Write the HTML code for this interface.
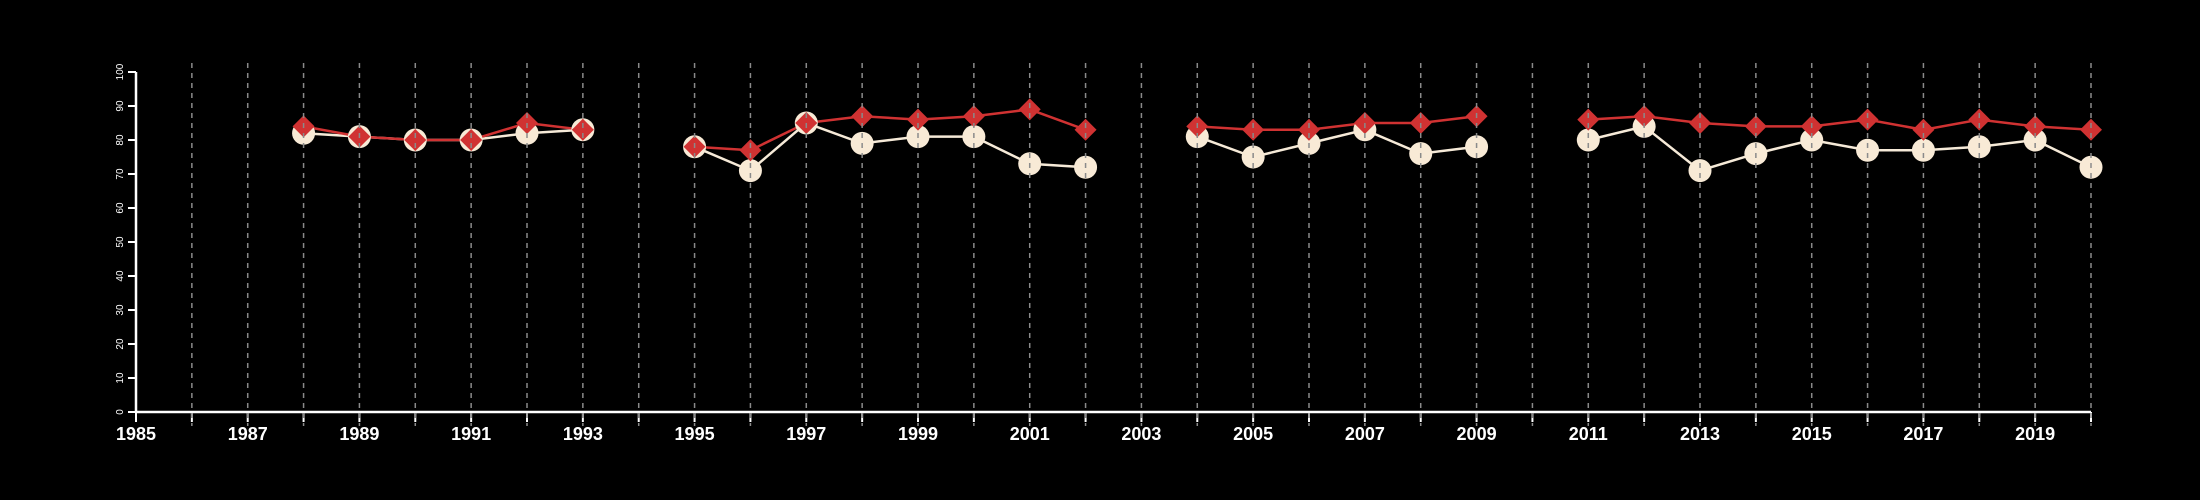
<!DOCTYPE html>
<html><head><meta charset="utf-8"><style>
html,body{margin:0;padding:0;background:#000;}
svg{display:block;}
</style></head><body>
<svg id="chart" width="2200" height="500" xmlns="http://www.w3.org/2000/svg">
<rect width="2200" height="500" fill="#000"/>
<g id="grid"></g>
<g id="axes"></g>
<g id="series"></g>
</svg>
<script>
const years = [1988,1989,1990,1991,1992,1993,null,1995,1996,1997,1998,1999,2000,2001,2002,null,2004,2005,2006,2007,2008,2009,null,2011,2012,2013,2014,2015,2016,2017,2018,2019,2020];
const whiteValues = [82,81,80,80,82,83,null,78,71,85,79,81,81,73,72,null,81,75,79,83,76,78,null,80,84,71,76,80,77,77,78,80,72];
const redValues = [84,81,80,80,85,83,null,78,77,85,87,86,87,89,83,null,84,83,83,85,85,87,null,86,87,85,84,84,86,83,86,84,83];
const yTicks = [0,10,20,30,40,50,60,70,80,90,100];
const xLabels = [1985,1987,1989,1991,1993,1995,1997,1999,2001,2003,2005,2007,2009,2011,2013,2015,2017,2019];

const NS='http://www.w3.org/2000/svg';
const X0=136,X1=2091,Y0=412,Y1=72;
const xS=y=>X0+(y-1985)*(X1-X0)/35;
const yS=v=>Y0-v*(Y0-Y1)/100;
function mk(tag,attrs,parent){const e=document.createElementNS(NS,tag);for(const k in attrs)e.setAttribute(k,attrs[k]);parent.appendChild(e);return e;}
const grid=document.getElementById('grid'),axes=document.getElementById('axes'),series=document.getElementById('series');

// axes
let e=mk('line',{x1:X0,y1:Y0,x2:X1,y2:Y0,stroke:'#fff','stroke-width':2.5},axes);


e=mk('line',{x1:X0,y1:Y0,x2:X0,y2:Y1,stroke:'#fff','stroke-width':2.5},axes);


for(let y=1985;y<=2020;y++){
  const t=mk('line',{x1:xS(y),y1:Y0,x2:xS(y),y2:Y0+10,stroke:'#fff','stroke-width':2},axes);
  
  
}
xLabels.forEach(y=>{
  const t=mk('text',{x:xS(y),y:440,fill:'#fff','font-family':'Liberation Sans, sans-serif','font-size':18,'font-weight':'bold','text-anchor':'middle'},axes);
  t.textContent=y;
  
  
});
yTicks.forEach(v=>{
  const t=mk('line',{x1:X0-8,y1:yS(v),x2:X0,y2:yS(v),stroke:'#fff','stroke-width':2},axes);
  
  
  const l=mk('text',{x:0,y:0,fill:'#fff','font-family':'Liberation Sans, sans-serif','font-size':10,'text-anchor':'middle',transform:`translate(${X0-13},${yS(v)}) rotate(-90)`},axes);
  l.textContent=v;
  
  
});

function drawLine(vals,color,name){
  let d='',pen=false;
  years.forEach((y,i)=>{
    if(y===null||vals[i]===null){pen=false;return;}
    d+=(pen?'L':'M')+xS(y)+','+yS(vals[i]);pen=true;
  });
  const p=mk('path',{d:d,fill:'none',stroke:color,'stroke-width':2.5},series);
  
  
}
drawLine(whiteValues,'#f6ead8','white-series-line');
drawLine(redValues,'#d03232','red-series-line');
years.forEach((y,i)=>{
  if(y===null)return;
  const c=mk('circle',{cx:xS(y),cy:yS(whiteValues[i]),r:11.5,fill:'#f8ead6'},series);
  
  
});
years.forEach((y,i)=>{
  if(y===null)return;
  const cx=xS(y),cy=yS(redValues[i]),s=11;
  const d=mk('polygon',{points:`${cx},${cy-s} ${cx+s},${cy} ${cx},${cy+s} ${cx-s},${cy}`,fill:'#d03232'},series);
  
  
});
// dashed gridlines drawn over markers
for(let y=1986;y<=2020;y++){
  const g=mk('line',{x1:xS(y),y1:63,x2:xS(y),y2:426,stroke:'#8a8a8a','stroke-width':1.5,'stroke-dasharray':'5,5'},series);
  
  
}
</script>
</body></html>
